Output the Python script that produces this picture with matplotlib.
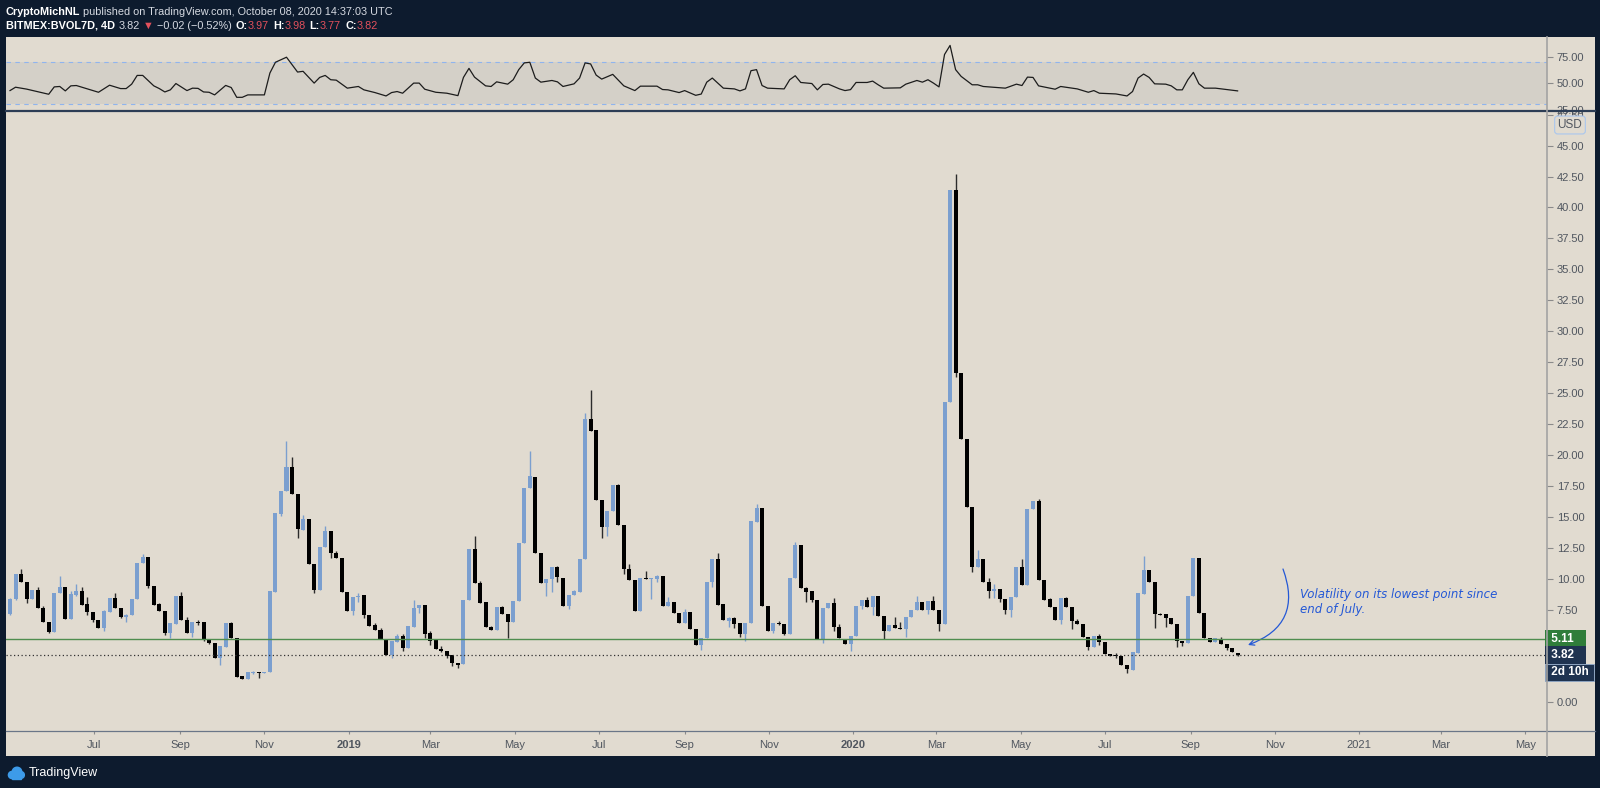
import matplotlib
matplotlib.use('Agg')
import matplotlib.pyplot as plt
import matplotlib.dates as mdates
from matplotlib.lines import Line2D
from matplotlib.patches import Rectangle, Circle
import numpy as np
import pandas as pd

# BITMEX:BVOL7D, 4D candles
first_date = '2018-05-01'
opens = [
    7.11, 8.32, 10.37, 9.75, 8.35, 9.08, 7.65, 6.52, 5.71, 8.80,
    9.35, 6.73, 8.70, 8.97, 7.92, 7.32, 6.65, 5.98, 7.32, 8.40,
    7.65, 6.89, 7.03, 8.32, 11.23, 11.77, 9.43, 7.94, 7.40, 5.63,
    6.35, 8.59, 6.65, 5.63, 6.52, 6.46, 5.12, 4.82, 3.55, 4.49,
    6.38, 5.22, 2.12, 1.85, 2.40, 2.45, 2.34, 2.42, 8.94, 15.22,
    17.10, 19.05, 16.84, 13.93, 14.84, 11.15, 9.08, 12.58, 13.87, 12.10,
    11.69, 8.94, 7.38, 8.48, 8.67, 7.08, 6.24, 5.84, 5.09, 3.82,
    4.90, 5.36, 4.41, 6.11, 7.62, 7.86, 5.57, 5.03, 4.33, 4.14,
    3.82, 3.14, 3.09, 8.26, 12.39, 9.61, 8.08, 6.11, 5.81, 7.73,
    7.13, 6.46, 8.21, 12.85, 17.29, 18.24, 12.09, 9.61, 9.94, 10.91,
    10.07, 7.78, 8.67, 8.89, 11.55, 22.90, 22.01, 16.35, 14.19, 15.49,
    17.57, 14.33, 10.80, 9.89, 7.41, 10.05, 9.97, 9.99, 10.21, 7.78,
    8.13, 7.19, 6.38, 7.30, 5.92, 4.63, 5.17, 9.75, 11.56, 7.95,
    6.60, 6.81, 6.38, 5.52, 6.44, 14.60, 15.68, 7.78, 5.76, 6.44,
    6.36, 5.52, 10.05, 12.69, 9.21, 9.02, 8.27, 5.11, 7.59, 7.99,
    6.06, 5.11, 4.71, 5.36, 7.78, 8.27, 7.73, 8.59, 6.97, 5.79,
    6.25, 6.00, 5.90, 6.87, 7.46, 8.13, 7.46, 8.21, 7.46, 6.30,
    24.25, 41.42, 26.65, 21.26, 15.81, 10.91, 11.55, 9.75, 9.02, 9.13,
    8.32, 7.46, 8.48, 10.96, 9.48, 15.63, 16.30, 9.88, 8.32, 7.73,
    6.65, 8.46, 7.73, 6.57, 6.33, 5.30, 4.50, 5.36, 4.85, 3.93,
    3.82, 3.77, 3.01, 2.61, 4.01, 8.73, 10.69, 9.75, 7.13, 7.11,
    6.84, 6.30, 4.98, 4.77, 8.62, 11.64, 7.19, 5.22, 4.90, 5.09,
    4.71, 4.36, 3.97]
highs = [
    8.40, 10.40, 10.77, 9.75, 9.05, 9.35, 7.78, 6.52, 8.86, 10.20,
    9.35, 9.00, 9.56, 9.29, 8.54, 7.32, 6.65, 7.50, 8.40, 8.86,
    7.65, 7.10, 8.35, 11.26, 11.96, 11.77, 9.43, 8.05, 7.40, 6.38,
    8.59, 8.94, 6.87, 6.52, 6.65, 6.46, 5.12, 4.82, 4.55, 6.38,
    6.50, 5.22, 2.12, 2.45, 2.52, 2.45, 2.47, 9.00, 15.27, 17.10,
    21.15, 19.80, 16.84, 15.14, 14.84, 11.15, 12.58, 14.25, 13.87, 12.23,
    11.69, 8.94, 8.54, 8.80, 8.67, 7.08, 6.43, 5.98, 5.09, 4.98,
    5.50, 5.50, 6.16, 8.26, 7.83, 7.86, 5.76, 5.03, 4.57, 4.14,
    3.82, 3.14, 8.26, 12.39, 13.47, 9.83, 8.08, 6.16, 7.73, 7.78,
    7.13, 8.21, 12.85, 17.29, 20.34, 18.24, 12.09, 9.94, 10.91, 11.00,
    10.07, 8.67, 9.07, 11.55, 23.36, 25.24, 22.01, 16.35, 15.49, 17.57,
    17.65, 14.33, 11.15, 9.89, 10.05, 10.60, 10.05, 10.29, 10.21, 8.54,
    8.13, 7.19, 7.51, 7.30, 5.92, 5.22, 9.75, 11.56, 12.04, 7.95,
    6.92, 6.92, 6.38, 6.44, 14.68, 16.00, 15.68, 7.78, 6.44, 6.60,
    6.36, 10.05, 12.99, 12.69, 9.35, 9.02, 8.27, 7.65, 7.99, 8.45,
    6.30, 5.11, 5.36, 7.78, 8.27, 8.48, 8.59, 8.59, 6.97, 6.25,
    6.87, 6.52, 6.87, 7.46, 8.59, 8.13, 8.21, 8.59, 7.46, 24.30,
    41.42, 42.68, 26.65, 21.26, 15.81, 12.31, 11.55, 10.02, 9.56, 9.13,
    8.32, 8.48, 10.96, 11.55, 15.63, 16.30, 16.40, 9.88, 8.40, 7.73,
    8.46, 8.50, 7.73, 6.70, 6.33, 5.30, 5.36, 5.49, 4.85, 3.93,
    4.00, 3.77, 3.01, 4.04, 8.81, 11.83, 10.69, 9.75, 7.24, 7.11,
    6.84, 6.30, 4.98, 8.62, 11.64, 11.64, 7.19, 5.22, 5.17, 5.25,
    4.71, 4.36, 3.98]
lows = [
    7.05, 8.30, 9.72, 8.00, 8.35, 7.65, 6.49, 5.60, 5.71, 8.80,
    6.73, 6.73, 8.60, 7.89, 7.05, 6.50, 5.98, 5.76, 7.32, 7.59,
    6.80, 6.52, 7.03, 8.32, 11.23, 9.21, 7.89, 7.38, 5.44, 5.17,
    6.35, 6.62, 5.63, 5.30, 6.22, 4.95, 4.70, 3.55, 3.00, 4.49,
    5.17, 2.07, 1.85, 1.85, 2.30, 1.99, 2.34, 2.42, 8.94, 15.06,
    17.10, 16.84, 13.25, 13.93, 11.15, 8.80, 9.08, 12.58, 11.69, 11.64,
    8.94, 7.38, 7.05, 8.13, 6.84, 6.19, 5.84, 5.09, 3.82, 3.55,
    4.90, 4.14, 4.41, 6.11, 7.19, 5.16, 4.63, 4.28, 4.09, 3.55,
    2.93, 2.74, 3.09, 8.26, 9.61, 8.05, 6.05, 5.81, 5.81, 7.13,
    5.16, 6.46, 8.21, 12.85, 17.29, 12.09, 9.61, 8.62, 8.94, 9.75,
    7.78, 7.54, 8.67, 8.89, 11.55, 21.95, 16.35, 13.25, 13.44, 15.49,
    14.33, 10.37, 9.89, 7.41, 7.41, 9.97, 8.32, 9.75, 7.78, 7.78,
    7.19, 6.38, 6.38, 5.92, 4.63, 4.23, 5.17, 9.35, 7.87, 6.65,
    6.11, 5.98, 5.30, 4.96, 6.44, 14.60, 7.78, 5.76, 5.57, 6.25,
    5.44, 5.52, 10.05, 9.21, 8.08, 8.08, 5.11, 4.76, 7.59, 5.79,
    5.22, 4.71, 4.14, 5.36, 7.51, 7.73, 7.05, 6.97, 5.09, 5.79,
    5.98, 5.90, 5.30, 6.87, 7.46, 7.46, 7.13, 7.46, 5.79, 6.30,
    24.25, 26.32, 21.26, 15.81, 10.56, 10.91, 9.75, 8.45, 8.40, 8.13,
    7.13, 6.87, 8.48, 9.48, 9.48, 15.63, 9.88, 8.27, 7.73, 6.65,
    6.33, 7.73, 5.92, 6.33, 5.25, 4.23, 4.50, 4.63, 3.88, 3.74,
    3.60, 3.01, 2.39, 2.61, 4.01, 8.73, 9.75, 5.98, 7.05, 6.11,
    6.30, 4.50, 4.55, 4.77, 8.62, 7.19, 5.17, 4.90, 4.90, 4.71,
    4.23, 4.04, 3.77]
closes = [
    8.35, 10.40, 9.72, 8.35, 9.05, 7.65, 6.49, 5.68, 8.86, 9.35,
    6.73, 8.78, 9.00, 7.89, 7.32, 6.62, 5.98, 7.38, 8.40, 7.59,
    6.89, 7.05, 8.35, 11.26, 11.77, 9.43, 7.89, 7.38, 5.63, 6.38,
    8.59, 6.62, 5.63, 6.52, 6.43, 5.03, 4.76, 3.55, 4.55, 6.38,
    5.17, 2.07, 1.85, 2.45, 2.47, 2.34, 2.47, 9.00, 15.27, 17.10,
    19.05, 16.84, 13.98, 14.84, 11.15, 9.08, 12.58, 13.87, 12.04, 11.64,
    8.94, 7.38, 8.54, 8.59, 7.05, 6.19, 5.84, 5.09, 3.82, 4.98,
    5.36, 4.41, 6.16, 7.65, 7.83, 5.54, 4.98, 4.28, 4.17, 3.76,
    3.14, 3.04, 8.26, 12.39, 9.61, 8.05, 6.05, 5.81, 7.73, 7.13,
    6.46, 8.21, 12.85, 17.29, 18.29, 12.09, 9.61, 9.94, 10.91, 10.10,
    7.78, 8.67, 8.99, 11.55, 22.90, 21.95, 16.35, 14.19, 15.49, 17.57,
    14.33, 10.78, 9.89, 7.41, 10.05, 9.97, 10.05, 10.21, 7.78, 8.13,
    7.19, 6.38, 7.30, 5.92, 4.63, 5.22, 9.75, 11.56, 7.87, 6.65,
    6.81, 6.33, 5.52, 6.44, 14.68, 15.68, 7.78, 5.76, 6.44, 6.36,
    5.52, 10.05, 12.69, 9.21, 8.94, 8.27, 5.11, 7.65, 7.99, 6.06,
    5.22, 4.71, 5.36, 7.78, 8.27, 7.73, 8.59, 6.97, 5.79, 6.25,
    5.98, 5.95, 6.87, 7.46, 8.13, 7.46, 8.21, 7.46, 6.30, 24.30,
    41.42, 26.59, 21.26, 15.81, 10.91, 11.55, 9.75, 9.02, 9.13, 8.32,
    7.46, 8.48, 10.96, 9.48, 15.63, 16.30, 9.88, 8.27, 7.73, 6.65,
    8.46, 7.73, 6.57, 6.33, 5.25, 4.50, 5.36, 4.85, 3.88, 3.74,
    3.77, 3.01, 2.66, 4.04, 8.81, 10.69, 9.75, 7.11, 7.05, 6.84,
    6.30, 4.95, 4.77, 8.62, 11.64, 7.19, 5.17, 4.90, 5.17, 4.71,
    4.36, 4.04, 3.82]

# RSI pane, sampled at its turning points (candle index, value)
rsi_idx = [
    0, 1, 3, 7, 8, 9, 10, 11, 12, 16,
    18, 20, 21, 22, 23, 24, 26, 27, 28, 29,
    30, 32, 33, 34, 35, 36, 37, 39, 40, 41,
    42, 43, 46, 47, 48, 50, 52, 53, 55, 56,
    57, 58, 59, 61, 63, 64, 66, 68, 69, 70,
    71, 73, 74, 75, 77, 79, 81, 82, 83, 84,
    86, 87, 88, 90, 91, 92, 93, 94, 95, 96,
    98, 99, 100, 102, 103, 104, 105, 106, 107, 109,
    110, 111, 113, 114, 117, 118, 119, 121, 122, 124,
    125, 126, 127, 129, 131, 132, 133, 134, 135, 136,
    137, 140, 141, 142, 143, 145, 146, 147, 148, 150,
    151, 152, 153, 155, 156, 157, 158, 161, 162, 164,
    165, 166, 167, 168, 169, 170, 171, 172, 174, 175,
    176, 180, 182, 183, 184, 185, 186, 189, 190, 193,
    195, 196, 197, 200, 202, 203, 204, 205, 206, 207,
    209, 210, 211, 212, 213, 214, 215, 216, 218, 222]
rsi_val = [
    43.1, 46.3, 44.5, 39.6, 46.6, 47.0, 42.8, 47.6, 47.9, 41.5,
    48.2, 45.0, 45.0, 49.2, 57.5, 57.5, 47.6, 45.0, 41.8, 43.8,
    49.8, 43.1, 45.4, 45.2, 41.8, 41.5, 39.0, 48.0, 46.0, 36.7,
    36.7, 39.0, 39.0, 59.8, 70.0, 74.8, 60.7, 61.4, 50.2, 55.6,
    57.5, 53.4, 53.0, 45.4, 47.0, 43.8, 41.2, 38.0, 41.2, 42.2,
    40.6, 50.2, 50.2, 44.4, 41.5, 40.6, 38.3, 55.6, 64.2, 55.9,
    47.6, 47.0, 51.4, 49.2, 53.4, 63.0, 69.4, 70.0, 55.0, 51.1,
    52.7, 51.4, 47.0, 49.5, 55.0, 69.4, 68.4, 57.8, 54.0, 58.5,
    53.0, 47.6, 43.1, 47.3, 47.3, 44.1, 43.8, 41.2, 43.1, 38.6,
    39.8, 51.1, 55.0, 45.4, 44.7, 42.8, 44.7, 62.0, 63.0, 47.9,
    45.4, 44.7, 53.4, 57.2, 50.8, 49.8, 43.8, 48.9, 49.2, 44.7,
    43.1, 44.0, 50.8, 50.8, 52.1, 48.6, 45.4, 45.7, 49.2, 52.7,
    51.1, 53.4, 50.2, 46.6, 77.4, 86.0, 63.0, 56.6, 48.6, 48.6,
    47.0, 45.4, 49.2, 47.9, 55.9, 55.6, 47.6, 44.4, 47.0, 44.7,
    41.5, 43.1, 40.6, 39.9, 38.0, 42.2, 55.0, 58.8, 55.6, 49.5,
    49.2, 47.6, 43.8, 43.8, 53.4, 60.4, 49.5, 45.4, 45.4, 42.8]

month_ticks = ['2018-07-01', '2018-09-01', '2018-11-01', '2019-01-01', '2019-03-01',
               '2019-05-01', '2019-07-01', '2019-09-01', '2019-11-01', '2020-01-01',
               '2020-03-01', '2020-05-01', '2020-07-01', '2020-09-01', '2020-11-01',
               '2021-01-01', '2021-03-01', '2021-05-01']
month_labels = ['Jul', 'Sep', 'Nov', '2019', 'Mar', 'May', 'Jul', 'Sep', 'Nov', '2020',
                'Mar', 'May', 'Jul', 'Sep', 'Nov', '2021', 'Mar', 'May']
price_ticks = [0, 2.5, 5, 7.5, 10, 12.5, 15, 17.5, 20, 22.5, 25, 27.5, 30, 32.5,
               35, 37.5, 40, 42.5, 45, 47.5]
hidden_ticks = [2.5, 5]   # covered by the price / countdown labels
rsi_ticks = [25, 50, 75]
level_price = 5.11
last_price = 3.82

NAVY = '#0d1b2e'
BEIGE = '#e1dbd0'
UP = '#7b9fcf'
DOWN = '#000000'
TXT = '#50565f'
RED = '#e2505c'
FONT = ['Liberation Sans', 'DejaVu Sans']
plt.rcParams['font.family'] = FONT

W, H = 1600, 788
def fx(px):
    return px / W
def fy(py):
    return 1 - py / H

fig = plt.figure(figsize=(16, 7.88), dpi=100, facecolor=NAVY)
fig.add_artist(Rectangle((fx(6), fy(756)), fx(1595) - fx(6), fy(37) - fy(756),
                         transform=fig.transFigure, fc=BEIGE, ec='none', zorder=0))

ax = fig.add_axes([fx(6), fy(731), fx(1547) - fx(6), fy(111) - fy(731)])
rsi = fig.add_axes([fx(6), fy(111), fx(1547) - fx(6), fy(37) - fy(111)], sharex=ax)
for a in (ax, rsi):
    a.set_facecolor(BEIGE)
    for s in a.spines.values():
        s.set_visible(False)

# candles
x = mdates.date2num(pd.date_range(first_date, periods=len(opens), freq='4D'))
o = np.array(opens); h = np.array(highs); l = np.array(lows); c = np.array(closes)
is_up = c >= o
body_col = np.where(is_up, UP, DOWN)
wick_col = np.where(is_up, UP, '#2b2b2b')
ax.vlines(x, l, h, colors=wick_col, lw=1, zorder=2)
ax.bar(x, np.maximum(np.abs(c - o), 0.08), bottom=np.minimum(o, c), width=2.9,
       color=body_col, linewidth=0, zorder=3)

ax.axhline(level_price, color='#4f8d4f', lw=1, zorder=4)
ax.axhline(last_price, color='#333333', lw=0.9, ls=(0, (1, 2)), zorder=4)

x0 = mdates.date2num(pd.Timestamp(first_date))
ax.set_xlim(x0 - 2.9, x0 + 1111.8)
ax.set_ylim(-2.32, 47.8)

ax.yaxis.tick_right()
ax.set_yticks(price_ticks)
ax.set_yticklabels(['' if v in hidden_ticks else f'{v:.2f}' for v in price_ticks])
ax.tick_params(axis='y', direction='out', length=4, pad=3, labelsize=8,
               labelcolor=TXT, color='#8a8a8a')
ax.set_xticks(mdates.date2num(pd.to_datetime(month_ticks)))
ax.set_xticklabels(month_labels)
ax.tick_params(axis='x', direction='out', length=2, pad=10, labelsize=8,
               labelcolor=TXT, color='#8a8a8a')
for t in ax.get_xticklabels():
    t.set_verticalalignment('baseline')
    if t.get_text() in ('2019', '2020'):
        t.set_fontweight('bold')

# price labels on the axis
ytr = ax.get_yaxis_transform()
ax.text(1.0005, level_price, ' 5.11   ', transform=ytr, ha='left', va='center',
        color='white', fontsize=8.5, fontweight='bold', clip_on=False, zorder=6,
        bbox=dict(boxstyle='square,pad=0.22', fc='#2f7d3a', ec='none'))
ax.text(1.0005, last_price, ' 3.82   ', transform=ytr, ha='left', va='center',
        color='white', fontsize=8.5, fontweight='bold', clip_on=False, zorder=6,
        bbox=dict(boxstyle='square,pad=0.22', fc='#1f3350', ec='none'))
ax.annotate(' 2d 10h ', xy=(1.0005, last_price), xycoords=ytr, xytext=(0, -12.3),
            textcoords='offset points', ha='left', va='center', color='white',
            fontsize=8.5, fontweight='bold', annotation_clip=False, zorder=6,
            bbox=dict(boxstyle='square,pad=0.22', fc='#1f3350', ec='#8fa8c8', lw=0.6))
fig.text(fx(1570), fy(125), 'USD', ha='center', va='center', color=TXT, fontsize=8.5,
         bbox=dict(boxstyle='round,pad=0.25', fc=BEIGE, ec='#a9c6ee', lw=0.8))

# RSI pane
rsi.axhspan(30, 70, color='#d4d0c8', lw=0, zorder=1)
for lvl in (70, 30):
    rsi.axhline(lvl, color='#8fb4ee', lw=0.8, ls=(0, (4, 4)), zorder=2)
rsi.plot(x[rsi_idx], rsi_val, color='#1c1c1c', lw=0.9, zorder=3)
rsi.set_ylim(23.7, 94.0)
rsi.yaxis.tick_right()
rsi.set_yticks(rsi_ticks)
rsi.set_yticklabels([f'{v:.2f}' for v in rsi_ticks])
rsi.tick_params(axis='y', direction='out', length=4, pad=3, labelsize=8,
                labelcolor=TXT, color='#8a8a8a')
rsi.tick_params(axis='x', bottom=False, labelbottom=False)

# pane separators
fig.add_artist(Line2D([fx(6), fx(1595)], [fy(111), fy(111)], color='#2c3d55', lw=1.6, zorder=5))
fig.add_artist(Line2D([fx(6), fx(1595)], [fy(731), fy(731)], color='#6a7688', lw=0.9, zorder=5))
fig.add_artist(Line2D([fx(1547), fx(1547)], [fy(756), fy(37)], color='#a3a3a3', lw=1.2, zorder=5))

# annotation
BLUE = '#2458d6'
fig.text(fx(1300), fy(588), 'Volatility on its lowest point since\nend of July.',
         ha='left', va='top', color=BLUE, fontsize=8.5, style='italic',
         linespacing=1.2, family=['DejaVu Sans'])
ax.annotate('', xy=(1248, H - 645), xycoords='figure pixels',
            xytext=(1283, H - 569), textcoords='figure pixels',
            arrowprops=dict(arrowstyle='->', color=BLUE, lw=0.9, shrinkA=0, shrinkB=0,
                            connectionstyle='arc3,rad=-0.5', mutation_scale=9))

# header
renderer = fig.canvas.get_renderer()
def text_run(x_px, y_px, parts, size):
    for s, col, wt, gap in parts:
        t = fig.text(fx(x_px), fy(y_px), s, color=col, fontsize=size, fontweight=wt,
                     ha='left', va='center')
        x_px += t.get_window_extent(renderer=renderer).width + gap

LIGHT = '#d6dae2'
text_run(6, 12, [('CryptoMichNL', 'white', 'bold', 3),
                 ('published on TradingView.com, October 08, 2020 14:37:03 UTC', LIGHT, 'normal', 0)], 7.8)
text_run(6, 26, [('BITMEX:BVOL7D, 4D', 'white', 'bold', 4),
                 ('3.82', LIGHT, 'normal', 3),
                 ('\u25bc', RED, 'normal', 3),
                 ('\u22120.02 (\u22120.52%)', LIGHT, 'normal', 4),
                 ('O:', 'white', 'bold', 0), ('3.97', RED, 'normal', 4),
                 ('H:', 'white', 'bold', 0), ('3.98', RED, 'normal', 4),
                 ('L:', 'white', 'bold', 0), ('3.77', RED, 'normal', 4),
                 ('C:', 'white', 'bold', 0), ('3.82', RED, 'normal', 0)], 7.8)

# footer logo
logo = fig.add_axes([fx(7), fy(781), fx(25) - fx(7), fy(765) - fy(781)])
logo.set_xlim(0, 18); logo.set_ylim(0, 16); logo.axis('off')
for cx, cy, r in [(5, 6, 3.6), (10, 9, 4.8), (14, 6, 3.4)]:
    logo.add_patch(Circle((cx, cy), r, color='#3d9be9'))
logo.add_patch(Rectangle((5, 2.4), 9, 4, color='#3d9be9'))
fig.text(fx(29), fy(773), 'TradingView', color='white', fontsize=9, ha='left', va='center')

fig.savefig('out.png', dpi=100, facecolor=NAVY)
